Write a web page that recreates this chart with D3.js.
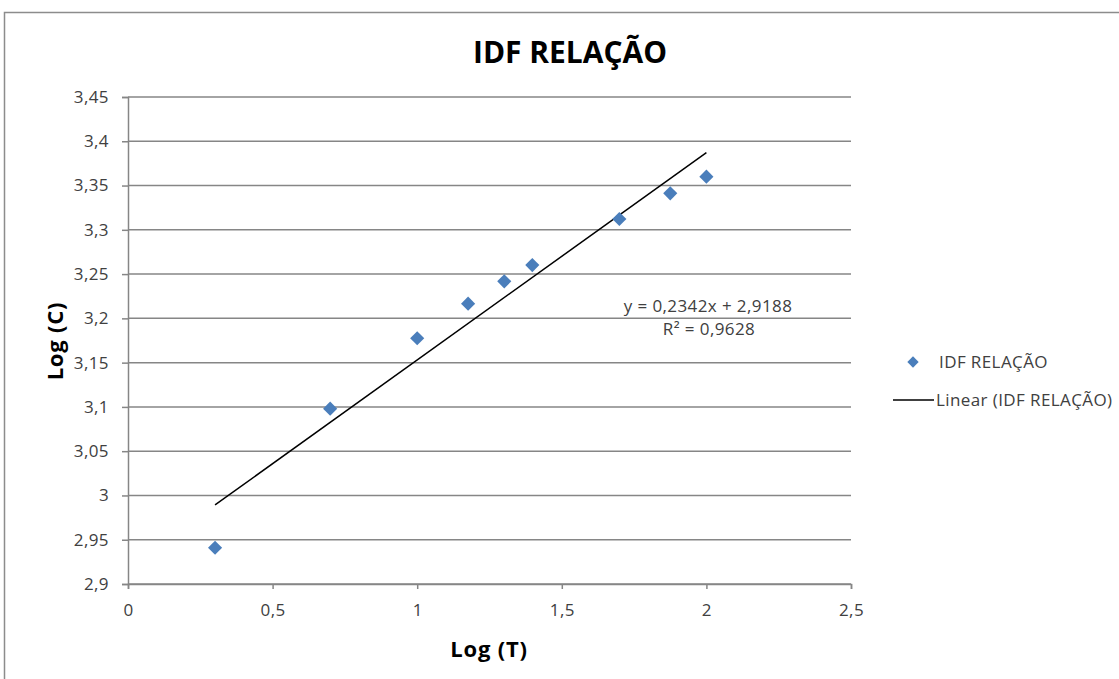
<!DOCTYPE html>
<html>
<head>
<meta charset="utf-8">
<script src="https://cdn.jsdelivr.net/npm/d3@7"></script>
<style>
  html, body { margin: 0; padding: 0; background: #fff; }
  svg { display: block; font-family: "Open Sans", "Noto Sans", sans-serif; }
</style>
</head>
<body>
<svg id="chart" width="1119" height="679"></svg>
<script>
// Return period (log) and intensity (log) pairs
const logT = [0.301, 0.699, 1.0, 1.176, 1.301, 1.398, 1.699, 1.875, 2.0];
const logC = [2.941, 3.098, 3.1775, 3.2166, 3.2418, 3.2602, 3.3122, 3.3412, 3.360];

// Linear trendline coefficients as printed on the chart
const slope = 0.2342;
const intercept = 2.9188;
const rSquared = 0.9628;

const xTicks = [0, 0.5, 1, 1.5, 2, 2.5];
const yTicks = [2.9, 2.95, 3, 3.05, 3.1, 3.15, 3.2, 3.25, 3.3, 3.35, 3.4, 3.45];

const titleText = "IDF RELAÇÃO";
const xLabel = "Log (T)";
const yLabel = "Log (C)";
const seriesName = "IDF RELAÇÃO";
const trendName = "Linear (IDF RELAÇÃO)";

const svg = d3.select("#chart");
const fmt = v => String(+v.toFixed(4)).replace(".", ",");

const plot = { left: 128, right: 851, top: 97, bottom: 584 };
const x = d3.scaleLinear().domain([0, 2.5]).range([plot.left, plot.right]);
const y = d3.scaleLinear().domain([2.9, 3.45]).range([plot.bottom, plot.top]);

const gridColor = "#868686";
const textColor = "#404040";
const markColor = "#4a7ebb";
const smallFont = 17;
const smallSpacing = 0.4;

// Chart frame
svg.append("rect")
  .attr("x", 4.5).attr("y", 12.5)
  .attr("width", 1200).attr("height", 700)
  .attr("fill", "#fff").attr("stroke", "#8c8c8c").attr("stroke-width", 1.5);

// Title
svg.append("text")
  .attr("x", 570).attr("y", 63)
  .attr("text-anchor", "middle")
  .attr("font-size", 31).attr("font-weight", 700)
  .attr("textLength", 194).attr("lengthAdjust", "spacingAndGlyphs")
  .attr("fill", "#000")
  .text(titleText);

// Horizontal gridlines
svg.append("g")
  .selectAll("line")
  .data(yTicks)
  .join("line")
  .attr("x1", plot.left).attr("x2", plot.right)
  .attr("y1", d => y(d)).attr("y2", d => y(d))
  .attr("stroke", gridColor).attr("stroke-width", 1.5);

function styleTicks(g) {
  g.attr("font-family", null).attr("font-size", null);
  g.select(".domain").attr("stroke", gridColor).attr("stroke-width", 1.5);
  g.selectAll(".tick line").attr("stroke", gridColor).attr("stroke-width", 1.5);
  g.selectAll(".tick text")
    .style("font-family", "'Open Sans', sans-serif")
    .style("font-size", smallFont + "px")
    .style("letter-spacing", smallSpacing + "px")
    .attr("fill", textColor);
}

// Y axis
svg.append("g")
  .attr("transform", `translate(${plot.left},0)`)
  .call(d3.axisLeft(y).tickValues(yTicks).tickFormat(fmt).tickSize(6).tickPadding(13))
  .call(styleTicks);

// X axis
svg.append("g")
  .attr("transform", `translate(0,${plot.bottom})`)
  .call(d3.axisBottom(x).tickValues(xTicks).tickFormat(fmt).tickSize(5).tickPadding(15))
  .call(styleTicks);

// Axis titles
svg.append("text")
  .attr("x", 489).attr("y", 657)
  .attr("text-anchor", "middle")
  .attr("font-size", 22).attr("font-weight", 700).attr("fill", "#000")
  .style("letter-spacing", "0.8px")
  .text(xLabel);

svg.append("text")
  .attr("transform", "translate(63,341) rotate(-90)")
  .attr("text-anchor", "middle")
  .attr("font-size", 22).attr("font-weight", 700).attr("fill", "#000")
  .style("letter-spacing", "0.8px")
  .text(yLabel);

// Trendline over the data range
const xMin = d3.min(logT), xMax = d3.max(logT);
svg.append("line")
  .attr("x1", x(xMin)).attr("y1", y(slope * xMin + intercept))
  .attr("x2", x(xMax)).attr("y2", y(slope * xMax + intercept))
  .attr("stroke", "#000").attr("stroke-width", 1.5);

// Data points as diamonds
const diamond = d3.symbol().type(d3.symbolSquare).size(100);
svg.append("g")
  .selectAll("path")
  .data(logT.map((t, i) => ({ t, c: logC[i] })))
  .join("path")
  .attr("d", diamond)
  .attr("transform", d => `translate(${x(d.t)},${y(d.c)}) rotate(45)`)
  .attr("fill", markColor);

// Trendline equation label
const eq = svg.append("g")
  .attr("font-size", smallFont).attr("fill", textColor).attr("text-anchor", "middle")
  .style("letter-spacing", smallSpacing + "px");
eq.append("text").attr("x", 708).attr("y", 312)
  .text(`y = ${fmt(slope)}x + ${fmt(intercept)}`);
eq.append("text").attr("x", 709).attr("y", 335)
  .text(`R² = ${fmt(rSquared)}`);

// Legend
const legend = svg.append("g")
  .attr("font-size", smallFont).attr("fill", textColor)
  .style("letter-spacing", smallSpacing + "px");
legend.append("path")
  .attr("d", d3.symbol().type(d3.symbolSquare).size(64))
  .attr("transform", "translate(913,362) rotate(45)")
  .attr("fill", markColor);
legend.append("text").attr("x", 939).attr("y", 368).text(seriesName);
legend.append("line")
  .attr("x1", 893).attr("x2", 934).attr("y1", 400).attr("y2", 400)
  .attr("stroke", "#000").attr("stroke-width", 1.5);
legend.append("text").attr("x", 936).attr("y", 406).text(trendName);
</script>
</body>
</html>
